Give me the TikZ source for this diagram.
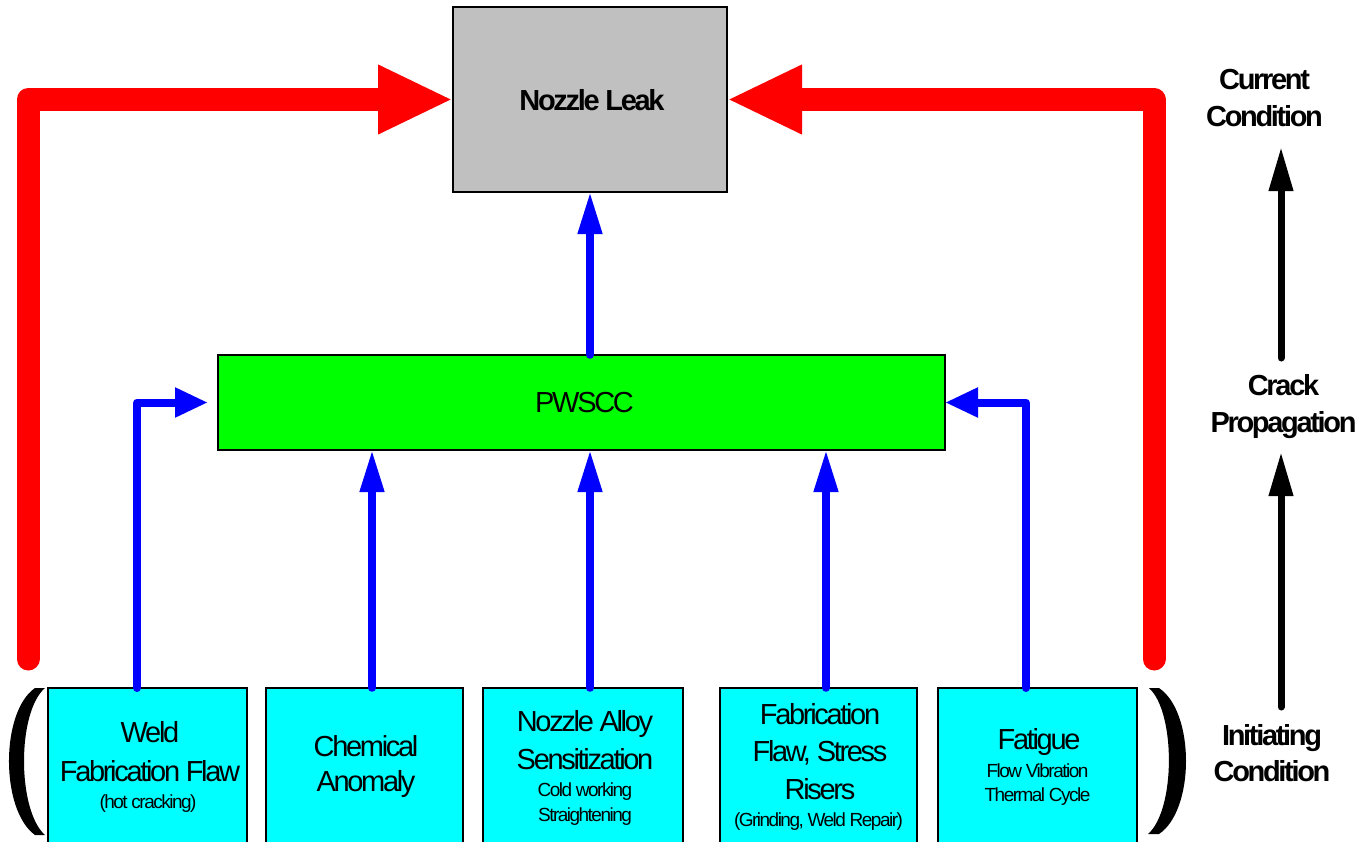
\documentclass[tikz,border=0pt]{standalone}
\usepackage{fontspec}
\setmainfont{Liberation Sans}[LetterSpace=-8]
\usetikzlibrary{arrows.meta,calc}
\newcommand\mainsz{\fontsize{29}{37}\selectfont}
\newcommand\smallsz{\fontsize{19}{25}\selectfont}
\definecolor{boxgrey}{RGB}{192,192,192}
\definecolor{boxgreen}{RGB}{0,255,0}
\definecolor{boxcyan}{RGB}{0,255,255}
\definecolor{arred}{RGB}{255,0,0}
\definecolor{arblue}{RGB}{0,0,255}
\tikzset{
  boxbase/.style={draw=black, line width=1.5pt, inner sep=0pt, outer sep=0pt, rectangle},
  leakbox/.style={boxbase, fill=boxgrey, minimum width=274pt, minimum height=185pt},
  pwbox/.style={boxbase, fill=boxgreen, minimum width=727pt, minimum height=95pt},
  initbox/.style={boxbase, fill=boxcyan, minimum height=170pt, anchor=north},
  bigtxt/.style={inner sep=0pt, anchor=base, font=\mainsz},
  boldtxt/.style={inner sep=0pt, anchor=base, font=\mainsz\bfseries},
  smalltxt/.style={inner sep=0pt, anchor=base, font=\smallsz},
  redarrow/.style={draw=arred, line width=23pt, line join=round, line cap=round,
     -{Triangle[length=75pt,width=64pt]}},
  bluev/.style={draw=arblue, line width=7.5pt, line cap=round,
     -{Triangle[length=42pt,width=23pt]}},
  blueh/.style={draw=arblue, line width=8pt, line cap=round, line join=round,
     -{Triangle[length=33pt,width=28pt]}},
  blackarrow/.style={draw=black, line width=7pt, line cap=round,
     -{Triangle[length=44pt,width=23pt]}},
}
\begin{document}
\begin{tikzpicture}[x=1pt,y=-1pt]
\useasboundingbox (0,0) rectangle (1363,841);

% main boxes
\node[leakbox] (leak) at (590,99.5) {};
\node[boldtxt] (leakt) at (592,110) {Nozzle Leak};
\node[pwbox] (pwscc) at (581.5,402.5) {};
\node[bigtxt] (pwt) at (584.5,412.7) {PWSCC};

% initiating boxes
\node[initbox, minimum width=199pt] (b1) at (147.5,688) {};
\node[initbox, minimum width=197pt] (b2) at (364.5,688) {};
\node[initbox, minimum width=200pt] (b3) at (583,688) {};
\node[initbox, minimum width=197pt] (b4) at (818.5,688) {};
\node[initbox, minimum width=199pt] (b5) at (1037.5,688) {};

% box texts
\node[bigtxt] (b1a) at (150,742.7) {Weld};
\node[bigtxt] (b1b) at (150,781.7) {Fabrication Flaw};
\node[smalltxt] (b1c) at (148,808) {(hot cracking)};

\node[bigtxt] (b2a) at (366,756) {Chemical};
\node[bigtxt] (b2b) at (366,791.7) {Anomaly};

\node[bigtxt] (b3a) at (585,731.7) {Nozzle Alloy};
\node[bigtxt] (b3b) at (585,769) {Sensitization};
\node[smalltxt] (b3c) at (585,796.7) {Cold working};
\node[smalltxt] (b3d) at (585,821.7) {Straightening};

\node[bigtxt] (b4a) at (820,724) {Fabrication};
\node[bigtxt] (b4b) at (820,761.7) {Flaw, Stress};
\node[bigtxt] (b4c) at (820,799.3) {Risers};
\node[smalltxt] (b4d) at (818.5,826) {(Grinding, Weld Repair)};

\node[bigtxt] (b5a) at (1039,749.3) {Fatigue};
\node[smalltxt] (b5b) at (1037.5,777.3) {Flow Vibration};
\node[smalltxt] (b5c) at (1037.5,801.7) {Thermal Cycle};

% right labels
\node[boldtxt] (cur1) at (1264.5,89) {Current};
\node[boldtxt] (cur2) at (1264.5,126) {Condition};
\node[boldtxt] (cr1) at (1283.5,395) {Crack};
\node[boldtxt] (cr2) at (1283.5,432) {Propagation};
\node[boldtxt] (in1) at (1272,745) {Initiating};
\node[boldtxt] (in2) at (1272,781.7) {Condition};

% parentheses
\fill[black] (35,688) .. controls (0.3,712) and (0.3,810) .. (35,835)
  -- (45,835) .. controls (17,810) and (17,712) .. (45,688) -- cycle;
\fill[black] (1159,688) .. controls (1195,712) and (1195,810) .. (1159,834)
  -- (1148,834) .. controls (1175.7,810) and (1175.7,712) .. (1149,688) -- cycle;

% red arrows
\coordinate (redl) at (28,659);
\coordinate (redr) at (1154,659);
\draw[redarrow] (redl) |- (leak.west);
\draw[redarrow] (redr) |- (leak.east);

% blue arrows
\draw[bluev] (leak.south |- pwscc.north) -- (leak.south);
\draw[bluev] ([xshift=7.5pt]b2.north) -- ([xshift=7.5pt]b2.north |- pwscc.south);
\draw[bluev] ([xshift=7pt]b3.north) -- ([xshift=7pt]b3.north |- pwscc.south);
\draw[bluev] ([xshift=7.5pt]b4.north) -- ([xshift=7.5pt]b4.north |- pwscc.south);
\draw[blueh] ([xshift=-10.5pt]b1.north) |- ([xshift=-10pt]pwscc.west);
\draw[blueh] ([xshift=-11.5pt]b5.north) |- (pwscc.east);

% black arrows
\coordinate (k1s) at (1281,358);
\coordinate (k1e) at (1281,147);
\coordinate (k2s) at (1281,707);
\coordinate (k2e) at (1281,452);
\draw[blackarrow] (k1s) -- (k1e);
\draw[blackarrow] (k2s) -- (k2e);
\end{tikzpicture}
\end{document}
